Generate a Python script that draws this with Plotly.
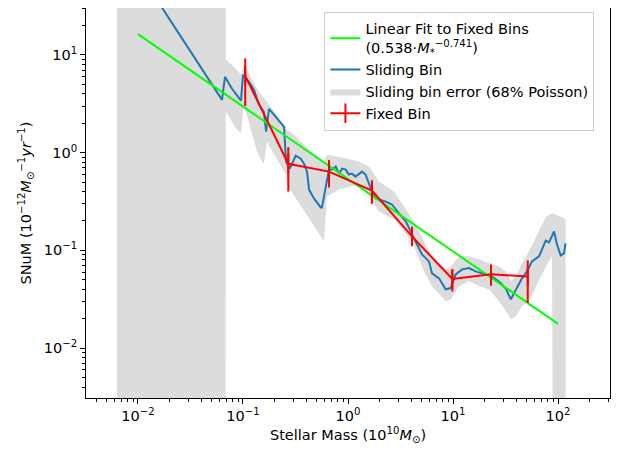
import plotly.graph_objects as go

# Sliding bin (blue line)
slide_x = [0.0063, 0.0631, 0.0674, 0.0786, 0.0957, 0.100, 0.114, 0.127, 0.142, 0.158,
           0.166, 0.177, 0.246, 0.257, 0.279, 0.318, 0.355, 0.381, 0.407, 0.426,
           0.474, 0.550, 0.565, 0.613, 0.659, 0.705, 0.764, 0.821, 0.877, 0.951,
           1.02, 1.09, 1.18, 1.36, 1.47, 1.65, 1.84, 2.29, 2.62, 3.06,
           3.55, 4.07, 4.54, 5.07, 5.91, 6.31, 7.36, 8.51, 9.51, 10.6,
           12.2, 14.2, 16.4, 18.9, 23.5, 28.4, 31.7, 35.5, 39.5, 45.4,
           50.7, 56.5, 65.9, 70.5, 76.4, 82.1, 91.6, 97.8, 106, 114, 118]
slide_y = [156, 3.47, 5.97, 4.50, 3.40, 6.25, 5.30, 4.40, 3.09, 2.62,
           1.64, 2.81, 1.84, 0.81, 0.687, 0.932, 0.869, 0.773, 0.640, 0.419,
           0.340, 0.275, 0.275, 0.450, 0.671, 0.671, 0.72, 0.61, 0.687, 0.671,
           0.597, 0.61, 0.569, 0.64, 0.597, 0.43, 0.34, 0.316, 0.295, 0.239,
           0.198, 0.146, 0.115, 0.091, 0.0772, 0.0582, 0.0518, 0.040, 0.0412, 0.0569,
           0.064, 0.066, 0.061, 0.0586, 0.0543, 0.0464, 0.0409, 0.0316, 0.0391, 0.0518,
           0.061, 0.0772, 0.0869, 0.105, 0.126, 0.121, 0.156, 0.115, 0.0889, 0.0932, 0.118]

# Sliding bin error band (68% Poisson)
band_x = [0.0063, 0.0681, 0.0687, 0.0839, 0.0957, 0.102, 0.136, 0.148, 0.158, 0.169,
          0.255, 0.262, 0.306, 0.357, 0.444, 0.591, 0.631, 0.821, 1.27,
          1.58, 1.97, 2.74, 3.41, 4.25, 5.29, 6.31, 7.36, 8.58, 9.57,
          11.4, 14.2, 17.7, 22.0, 27.4, 32.0, 35.6, 39.8, 45.4, 52.9,
          65.9, 76.9, 87.7, 89.6, 118]
band_hi = [1e3, 1e3, 8.9, 7.37, 6.25, 8.09, 4.5, 3.91, 3.64, 3.31,
           1.84, 1.72, 1.53, 1.29, 1.02, 0.81, 0.95, 0.91, 0.81,
           0.72, 0.506, 0.40, 0.281, 0.198, 0.124, 0.0869, 0.0737, 0.064, 0.0687,
           0.0869, 0.0869, 0.081, 0.0737, 0.0687, 0.061, 0.0483, 0.0543, 0.0737, 0.0977,
           0.156, 0.222, 0.239, 0.239, 0.21]
band_lo = [1e-4, 1e-4, 2.62, 1.84, 1.56, 3.09, 1.02, 0.85, 0.77, 1.29,
           0.597, 0.471, 0.356, 0.281, 0.198, 0.124, 0.356, 0.419, 0.471,
           0.356, 0.25, 0.207, 0.156, 0.11, 0.061, 0.043, 0.0356, 0.0302, 0.0316,
           0.043, 0.0483, 0.043, 0.040, 0.0302, 0.0239, 0.0198, 0.0212, 0.0268, 0.0302,
           0.0483, 0.0687, 0.0869, 1e-4, 1e-4]

# Fixed bins (red)
fixed_x = [0.105, 0.27, 0.66, 1.69, 4.07, 9.85, 23.0, 51.5]
fixed_y = [6.1, 0.77, 0.64, 0.41, 0.139, 0.051, 0.057, 0.054]
fixed_err = [3.1, 0.37, 0.20, 0.11, 0.028, 0.013, 0.0135, 0.025]

# Linear fit: 0.538 * M^-0.741
fit_amp = 0.538
fit_slope = -0.741
fit_x = [0.01, 100.0]
fit_y = [fit_amp * m ** fit_slope for m in fit_x]

tick_vals = [0.01, 0.1, 1, 10, 100]
x_tick_text = ["10<sup>−2</sup>", "10<sup>−1</sup>", "10<sup>0</sup>", "10<sup>1</sup>", "10<sup>2</sup>"]
y_tick_vals = [0.01, 0.1, 1, 10]
y_tick_text = ["10<sup>−2</sup>", "10<sup>−1</sup>", "10<sup>0</sup>", "10<sup>1</sup>"]

FONT = "DejaVu Sans"
FS = 14.5

fig = go.Figure()

fig.add_trace(go.Scatter(
    x=band_x + band_x[::-1], y=band_hi + band_lo[::-1],
    fill="toself", fillcolor="rgb(220,220,220)", line=dict(width=0),
    mode="lines", name="Sliding bin error (68% Poisson)", legendrank=3,
    hoverinfo="skip"))

fig.add_trace(go.Scatter(
    x=slide_x, y=slide_y, mode="lines",
    line=dict(color="#1f77b4", width=2), name="Sliding Bin", legendrank=2))

fig.add_trace(go.Scatter(
    x=fit_x, y=fit_y, mode="lines",
    line=dict(color="#00ff00", width=2),
    name="Linear Fit to Fixed Bins<br>(0.538·<i>M</i><sub>*</sub><sup>−0.741</sup>)",
    legendrank=1))

fig.add_trace(go.Scatter(
    x=fixed_x, y=fixed_y, mode="lines+markers",
    line=dict(color="#ff0000", width=2),
    marker=dict(symbol="line-ns-open", size=14, color="#ff0000",
                line=dict(color="#ff0000", width=2)),
    error_y=dict(type="data", array=fixed_err, color="#ff0000", thickness=2, width=0),
    name="Fixed Bin", legendrank=4))

axis_common = dict(
    type="log", showgrid=False, zeroline=False, automargin=False,
    showline=True, linecolor="black", linewidth=1, mirror=True,
    ticks="outside", ticklen=5, tickcolor="black", tickwidth=1,
    minor=dict(ticks="outside", ticklen=3, tickcolor="black", dtick="D1", showgrid=False),
    tickfont=dict(family=FONT, size=FS, color="black"),
)

fig.update_xaxes(
    **axis_common, range=[-2.495, 2.495],
    tickmode="array", tickvals=tick_vals, ticktext=x_tick_text,
    title=dict(text="Stellar Mass (10<sup>10</sup><i>M</i><sub>⊙</sub>)",
               font=dict(family=FONT, size=FS, color="black"), standoff=6))
fig.update_yaxes(
    **axis_common, range=[-2.51, 1.48],
    tickmode="array", tickvals=y_tick_vals, ticktext=y_tick_text,
    title=dict(text="SNuM (10<sup>−12</sup><i>M</i><sub>⊙</sub><sup>−1</sup><i>yr</i><sup>−1</sup>)",
               font=dict(family=FONT, size=FS, color="black"), standoff=8))

# page body has an 8px margin, so the figure is sized/offset to compensate
fig.update_layout(
    width=611, height=445,
    margin=dict(l=78, r=9, t=0, b=55),
    plot_bgcolor="white", paper_bgcolor="white",
    font=dict(family=FONT, size=FS, color="black"),
    showlegend=True,
    legend=dict(x=0.455, y=0.99, xanchor="left", yanchor="top",
                bgcolor="rgba(255,255,255,0.8)", bordercolor="#cccccc", borderwidth=1,
                font=dict(family=FONT, size=FS, color="black"),
                itemwidth=30, tracegroupgap=4),
)

fig.write_html("out.html")
